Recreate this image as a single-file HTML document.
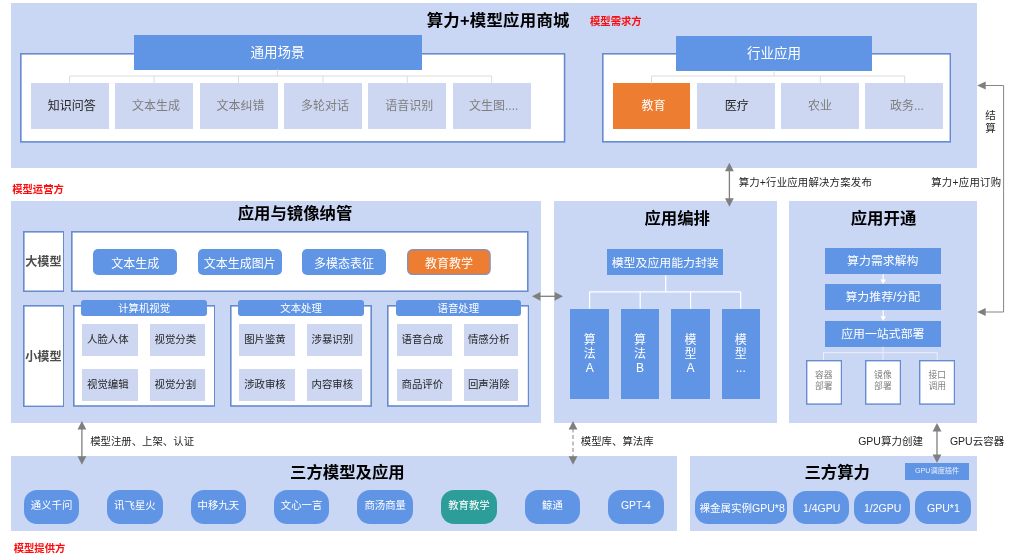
<!DOCTYPE html>
<html lang="zh-CN">
<head>
<meta charset="utf-8">
<title>算力+模型应用商城</title>
<style>
html,body{margin:0;padding:0;background:#fff;}
body{width:1017px;height:557px;position:relative;overflow:hidden;font-family:"Liberation Sans","Noto Sans CJK SC",sans-serif;}
#c{position:absolute;left:0;top:0;width:1017px;height:557px;overflow:hidden;will-change:transform;}
#c>div{position:absolute;}
#c>svg{position:absolute;}
.b{display:flex;align-items:center;justify-content:center;text-align:center;white-space:nowrap;line-height:1.2;}
.l{width:0;height:0;display:flex;align-items:center;justify-content:center;white-space:nowrap;line-height:1.2;}
.t{position:relative;display:block;}
</style>
</head>
<body>
<div id="c">
<div style="left:11px;top:3px;width:966.4px;height:165.4px;background:#cad7f4;"></div>
<div style="left:11px;top:201px;width:530.2px;height:222px;background:#cad7f4;"></div>
<div style="left:553.6px;top:201px;width:223.4px;height:222px;background:#cad7f4;"></div>
<div style="left:788.7px;top:201px;width:188.7px;height:222px;background:#cad7f4;"></div>
<div style="left:11px;top:456px;width:666px;height:75px;background:#cad7f4;"></div>
<div style="left:689.8px;top:456px;width:287.6px;height:75px;background:#cad7f4;"></div>
<div class="l" style="left:498.2px;top:21.1px;font-size:16.4px;color:#000;font-weight:bold;letter-spacing:0.25px;"><span class="t">算力+模型应用商城</span></div>
<div class="l" style="left:615.8px;top:21.9px;font-size:10.3px;color:#fb0d0d;font-weight:bold;"><span class="t">模型需求方</span></div>
<svg style="left:20.4px;top:52.9px;position:absolute" width="545.4" height="89.7" viewBox="0 0 545.4 89.7"><rect x="0.8" y="0.8" width="543.8" height="88.1" fill="#fff" stroke="#668bcf" stroke-width="1.6"/></svg>
<div class="b" style="left:133.5px;top:35px;width:288.1px;height:34.5px;background:#6095e6;font-size:13.5px;color:#fff;"><span class="t" style="left:0px;top:0.8px">通用场景</span></div>
<div class="b" style="left:30.7px;top:83px;width:78.0px;height:45.5px;background:#cdd7f1;font-size:12px;color:#262626;"><span class="t" style="left:2px;top:0.4px">知识问答</span></div>
<div class="b" style="left:115.1px;top:83px;width:78.0px;height:45.5px;background:#cdd7f1;font-size:12px;color:#7f7f7f;"><span class="t" style="left:2px;top:0.4px">文本生成</span></div>
<div class="b" style="left:199.5px;top:83px;width:78.0px;height:45.5px;background:#cdd7f1;font-size:12px;color:#7f7f7f;"><span class="t" style="left:2px;top:0.4px">文本纠错</span></div>
<div class="b" style="left:283.9px;top:83px;width:78.0px;height:45.5px;background:#cdd7f1;font-size:12px;color:#7f7f7f;"><span class="t" style="left:2px;top:0.4px">多轮对话</span></div>
<div class="b" style="left:368.3px;top:83px;width:78.0px;height:45.5px;background:#cdd7f1;font-size:12px;color:#7f7f7f;"><span class="t" style="left:2px;top:0.4px">语音识别</span></div>
<div class="b" style="left:452.7px;top:83px;width:78.0px;height:45.5px;background:#cdd7f1;font-size:12px;color:#7f7f7f;"><span class="t" style="left:2px;top:0.4px">文生图....</span></div>
<svg style="left:602px;top:53px;position:absolute" width="349.2" height="89.6" viewBox="0 0 349.2 89.6"><rect x="0.8" y="0.8" width="347.6" height="88.0" fill="#fff" stroke="#668bcf" stroke-width="1.6"/></svg>
<div class="b" style="left:676.2px;top:36px;width:195.6px;height:34.5px;background:#6095e6;font-size:13.5px;color:#fff;"><span class="t" style="left:0px;top:0.8px">行业应用</span></div>
<div class="b" style="left:612.5px;top:83px;width:77.8px;height:45.5px;background:#ed7d31;font-size:12px;color:#fff;"><span class="t" style="left:2px;top:0.4px">教育</span></div>
<div class="b" style="left:696.75px;top:83px;width:77.8px;height:45.5px;background:#cdd7f1;font-size:12px;color:#262626;"><span class="t" style="left:1.2px;top:0.4px">医疗</span></div>
<div class="b" style="left:781.0px;top:83px;width:77.8px;height:45.5px;background:#cdd7f1;font-size:12px;color:#7f7f7f;"><span class="t" style="left:0px;top:0.4px">农业</span></div>
<div class="b" style="left:865.25px;top:83px;width:77.8px;height:45.5px;background:#cdd7f1;font-size:12px;color:#7f7f7f;"><span class="t" style="left:2.8px;top:0.4px">政务...</span></div>
<div class="l" style="left:38px;top:189.7px;font-size:10.3px;color:#fb0d0d;font-weight:bold;"><span class="t">模型运营方</span></div>
<div class="l" style="left:39.5px;top:548.8px;font-size:10.3px;color:#fb0d0d;font-weight:bold;"><span class="t">模型提供方</span></div>
<div class="l" style="left:295px;top:214.3px;font-size:16.4px;color:#000;font-weight:bold;"><span class="t">应用与镜像纳管</span></div>
<svg style="left:22.6px;top:230.7px;position:absolute" width="41.6" height="61.1" viewBox="0 0 41.6 61.1"><rect x="0.8" y="0.8" width="40.0" height="59.5" fill="#fff" stroke="#668bcf" stroke-width="1.6"/></svg>
<div class="b" style="left:22.6px;top:230.7px;width:41.6px;height:61.1px;font-size:12.1px;color:#4d4d4d;font-weight:bold;"><span class="t" style="left:0px;top:1px">大模型</span></div>
<svg style="left:71.4px;top:230.7px;position:absolute" width="457.6" height="61.1" viewBox="0 0 457.6 61.1"><rect x="0.8" y="0.8" width="456.0" height="59.5" fill="#fff" stroke="#668bcf" stroke-width="1.6"/></svg>
<div class="b" style="left:93.2px;top:249.2px;width:84.1px;height:26.2px;background:#6095e6;font-size:12px;color:#fff;border-radius:5px;"><span class="t" style="left:0px;top:1.6px">文本生成</span></div>
<div class="b" style="left:197.7px;top:249.2px;width:84.3px;height:26.2px;background:#6095e6;font-size:12px;color:#fff;border-radius:5px;"><span class="t" style="left:0px;top:1.6px">文本生成图片</span></div>
<div class="b" style="left:302px;top:249.2px;width:84.2px;height:26.2px;background:#6095e6;font-size:12px;color:#fff;border-radius:5px;"><span class="t" style="left:0px;top:1.6px">多模态表征</span></div>
<svg style="left:407px;top:249.2px;position:absolute" width="83.8" height="26.2" viewBox="0 0 83.8 26.2"><rect x="0.7" y="0.7" width="82.4" height="24.8" rx="5" ry="5" fill="#ed7d31" stroke="#8a90b4" stroke-width="1.4"/></svg>
<div class="b" style="left:407px;top:249.2px;width:83.8px;height:26.2px;font-size:12px;color:#fff;"><span class="t" style="left:0px;top:1.6px">教育教学</span></div>
<svg style="left:22.6px;top:304.8px;position:absolute" width="41.6" height="102.2" viewBox="0 0 41.6 102.2"><rect x="0.8" y="0.8" width="40.0" height="100.6" fill="#fff" stroke="#668bcf" stroke-width="1.6"/></svg>
<div class="b" style="left:22.6px;top:304.8px;width:41.6px;height:102.2px;font-size:12.1px;color:#4d4d4d;font-weight:bold;"><span class="t" style="left:0px;top:1.6px">小模型</span></div>
<svg style="left:72.6px;top:305.2px;position:absolute" width="142.6" height="101.8" viewBox="0 0 142.6 101.8"><rect x="0.8" y="0.8" width="141.0" height="100.2" fill="#fff" stroke="#668bcf" stroke-width="1.6"/></svg>
<div class="b" style="left:81.4px;top:300.4px;width:125.6px;height:15.9px;background:#6095e6;font-size:10.4px;color:#fff;border-radius:3px;"><span class="t" style="left:0px;top:0.6px">计算机视觉</span></div>
<div class="b" style="left:82.1px;top:323.8px;width:55.9px;height:32.6px;background:#cdd7f1;font-size:10.4px;color:#262626;"><span class="t" style="left:-2.2px;top:0.5px">人脸人体</span></div>
<div class="b" style="left:149.6px;top:323.8px;width:55.9px;height:32.6px;background:#cdd7f1;font-size:10.4px;color:#262626;"><span class="t" style="left:-2.2px;top:0.5px">视觉分类</span></div>
<div class="b" style="left:82.1px;top:369px;width:55.9px;height:32px;background:#cdd7f1;font-size:10.4px;color:#262626;"><span class="t" style="left:-2.2px;top:0.5px">视觉编辑</span></div>
<div class="b" style="left:149.6px;top:369px;width:55.9px;height:32px;background:#cdd7f1;font-size:10.4px;color:#262626;"><span class="t" style="left:-2.2px;top:0.5px">视觉分割</span></div>
<svg style="left:230px;top:305.2px;position:absolute" width="142" height="101.8" viewBox="0 0 142 101.8"><rect x="0.8" y="0.8" width="140.4" height="100.2" fill="#fff" stroke="#668bcf" stroke-width="1.6"/></svg>
<div class="b" style="left:238px;top:300.4px;width:126.2px;height:15.9px;background:#6095e6;font-size:10.4px;color:#fff;border-radius:3px;"><span class="t" style="left:0px;top:0.6px">文本处理</span></div>
<div class="b" style="left:239.3px;top:323.8px;width:55.7px;height:32.6px;background:#cdd7f1;font-size:10.4px;color:#262626;"><span class="t" style="left:-2.2px;top:0.5px">图片鉴黄</span></div>
<div class="b" style="left:306.6px;top:323.8px;width:55.9px;height:32.6px;background:#cdd7f1;font-size:10.4px;color:#262626;"><span class="t" style="left:-2.2px;top:0.5px">涉暴识别</span></div>
<div class="b" style="left:239.3px;top:369px;width:55.7px;height:32px;background:#cdd7f1;font-size:10.4px;color:#262626;"><span class="t" style="left:-2.2px;top:0.5px">涉政审核</span></div>
<div class="b" style="left:306.6px;top:369px;width:55.9px;height:32px;background:#cdd7f1;font-size:10.4px;color:#262626;"><span class="t" style="left:-2.2px;top:0.5px">内容审核</span></div>
<svg style="left:386.6px;top:305.2px;position:absolute" width="142.4" height="101.8" viewBox="0 0 142.4 101.8"><rect x="0.8" y="0.8" width="140.8" height="100.2" fill="#fff" stroke="#668bcf" stroke-width="1.6"/></svg>
<div class="b" style="left:395.8px;top:300.4px;width:125.0px;height:15.9px;background:#6095e6;font-size:10.4px;color:#fff;border-radius:3px;"><span class="t" style="left:0px;top:0.6px">语音处理</span></div>
<div class="b" style="left:396.6px;top:323.8px;width:55.9px;height:32.6px;background:#cdd7f1;font-size:10.4px;color:#262626;"><span class="t" style="left:-2.2px;top:0.5px">语音合成</span></div>
<div class="b" style="left:463.6px;top:323.8px;width:54.7px;height:32.6px;background:#cdd7f1;font-size:10.4px;color:#262626;"><span class="t" style="left:-2.2px;top:0.5px">情感分析</span></div>
<div class="b" style="left:396.6px;top:369px;width:55.9px;height:32px;background:#cdd7f1;font-size:10.4px;color:#262626;"><span class="t" style="left:-2.2px;top:0.5px">商品评价</span></div>
<div class="b" style="left:463.6px;top:369px;width:54.7px;height:32px;background:#cdd7f1;font-size:10.4px;color:#262626;"><span class="t" style="left:-2.2px;top:0.5px">回声消除</span></div>
<div class="l" style="left:677.2px;top:218.4px;font-size:16.4px;color:#000;font-weight:bold;"><span class="t">应用编排</span></div>
<div class="b" style="left:607.2px;top:248.5px;width:116.1px;height:26.7px;background:#6095e6;font-size:11.9px;color:#fff;"><span class="t" style="left:0px;top:0.8px">模型及应用能力封装</span></div>
<div class="b" style="left:570.4px;top:308.7px;width:38.6px;height:90.0px;background:#6095e6;font-size:12px;color:#fff;line-height:14px;white-space:normal;"><span class="t" style="left:0px;top:0.3px">算<br>法<br>A</span></div>
<div class="b" style="left:620.8px;top:308.7px;width:38.6px;height:90.0px;background:#6095e6;font-size:12px;color:#fff;line-height:14px;white-space:normal;"><span class="t" style="left:0px;top:0.3px">算<br>法<br>B</span></div>
<div class="b" style="left:671.2px;top:308.7px;width:38.6px;height:90.0px;background:#6095e6;font-size:12px;color:#fff;line-height:14px;white-space:normal;"><span class="t" style="left:0px;top:0.3px">模<br>型<br>A</span></div>
<div class="b" style="left:721.6px;top:308.7px;width:38.4px;height:90.0px;background:#6095e6;font-size:12px;color:#fff;line-height:14px;white-space:normal;"><span class="t" style="left:0px;top:0.3px">模<br>型<br>...</span></div>
<div class="l" style="left:883.5px;top:218.4px;font-size:16.4px;color:#000;font-weight:bold;"><span class="t">应用开通</span></div>
<div class="b" style="left:825px;top:247.7px;width:115.6px;height:26.5px;background:#6095e6;font-size:11.9px;color:#fff;"><span class="t" style="left:0px;top:0.4px">算力需求解构</span></div>
<div class="b" style="left:825px;top:284px;width:115.6px;height:26.2px;background:#6095e6;font-size:11.9px;color:#fff;"><span class="t" style="left:0px;top:0.4px">算力推荐/分配</span></div>
<div class="b" style="left:825px;top:320.8px;width:115.6px;height:25.9px;background:#6095e6;font-size:11.9px;color:#fff;"><span class="t" style="left:0px;top:0.4px">应用一站式部署</span></div>
<svg style="left:805.6px;top:360px;position:absolute" width="36.2" height="44.8" viewBox="0 0 36.2 44.8"><rect x="0.7" y="0.7" width="34.8" height="43.4" fill="#fff" stroke="#668bcf" stroke-width="1.4"/></svg>
<div class="b" style="left:805.6px;top:360px;width:36.2px;height:44.8px;font-size:8.8px;color:#7f7f7f;line-height:11.3px;white-space:normal;"><span class="t" style="left:0px;top:-1.5px">容器<br>部署</span></div>
<svg style="left:864.8px;top:360px;position:absolute" width="36.2" height="44.8" viewBox="0 0 36.2 44.8"><rect x="0.7" y="0.7" width="34.8" height="43.4" fill="#fff" stroke="#668bcf" stroke-width="1.4"/></svg>
<div class="b" style="left:864.8px;top:360px;width:36.2px;height:44.8px;font-size:8.8px;color:#7f7f7f;line-height:11.3px;white-space:normal;"><span class="t" style="left:0px;top:-1.5px">镜像<br>部署</span></div>
<svg style="left:919.2px;top:360px;position:absolute" width="36.2" height="44.8" viewBox="0 0 36.2 44.8"><rect x="0.7" y="0.7" width="34.8" height="43.4" fill="#fff" stroke="#668bcf" stroke-width="1.4"/></svg>
<div class="b" style="left:919.2px;top:360px;width:36.2px;height:44.8px;font-size:8.8px;color:#7f7f7f;line-height:11.3px;white-space:normal;"><span class="t" style="left:0px;top:-1.5px">接口<br>调用</span></div>
<div class="l" style="left:347.4px;top:472.7px;font-size:16.4px;color:#000;font-weight:bold;"><span class="t">三方模型及应用</span></div>
<div class="l" style="left:837.2px;top:472.7px;font-size:16.4px;color:#000;font-weight:bold;"><span class="t">三方算力</span></div>
<div class="b" style="left:23.7px;top:490.4px;width:55.8px;height:33.3px;background:#6095e6;font-size:10.4px;color:#fff;border-radius:13px;"><span class="t" style="left:0px;top:-0.5px">通义千问</span></div>
<div class="b" style="left:107.0px;top:490.4px;width:55.8px;height:33.3px;background:#6095e6;font-size:10.4px;color:#fff;border-radius:13px;"><span class="t" style="left:0px;top:-0.5px">讯飞星火</span></div>
<div class="b" style="left:190.5px;top:490.4px;width:55.8px;height:33.3px;background:#6095e6;font-size:10.4px;color:#fff;border-radius:13px;"><span class="t" style="left:0px;top:-0.5px">中移九天</span></div>
<div class="b" style="left:273.7px;top:490.4px;width:55.8px;height:33.3px;background:#6095e6;font-size:10.4px;color:#fff;border-radius:13px;"><span class="t" style="left:0px;top:-0.5px">文心一言</span></div>
<div class="b" style="left:357.3px;top:490.4px;width:55.8px;height:33.3px;background:#6095e6;font-size:10.4px;color:#fff;border-radius:13px;"><span class="t" style="left:0px;top:-0.5px">商汤商量</span></div>
<div class="b" style="left:441.1px;top:490.4px;width:55.8px;height:33.3px;background:#2d9d9a;font-size:10.4px;color:#fff;border-radius:13px;"><span class="t" style="left:0px;top:-0.5px">教育教学</span></div>
<div class="b" style="left:524.6px;top:490.4px;width:55.8px;height:33.3px;background:#6095e6;font-size:10.4px;color:#fff;border-radius:13px;"><span class="t" style="left:0px;top:-0.5px">鲸通</span></div>
<div class="b" style="left:608.0px;top:490.4px;width:55.8px;height:33.3px;background:#6095e6;font-size:10.4px;color:#fff;border-radius:13px;"><span class="t" style="left:0px;top:-0.5px">GPT-4</span></div>
<div class="b" style="left:695.4px;top:491.3px;width:92.0px;height:32.7px;background:#6095e6;font-size:10.5px;color:#fff;border-radius:13px;"><span class="t" style="left:0.8px;top:0.3px">裸金属实例GPU*8</span></div>
<div class="b" style="left:793px;top:491.3px;width:55.7px;height:32.7px;background:#6095e6;font-size:10.5px;color:#fff;border-radius:13px;"><span class="t" style="left:0.8px;top:0.3px">1/4GPU</span></div>
<div class="b" style="left:854px;top:491.3px;width:55.6px;height:32.7px;background:#6095e6;font-size:10.5px;color:#fff;border-radius:13px;"><span class="t" style="left:0.8px;top:0.3px">1/2GPU</span></div>
<div class="b" style="left:914.7px;top:491.3px;width:55.9px;height:32.7px;background:#6095e6;font-size:10.5px;color:#fff;border-radius:13px;"><span class="t" style="left:0.8px;top:0.3px">GPU*1</span></div>
<div class="b" style="left:905.3px;top:463px;width:63.5px;height:17.4px;background:#6095e6;font-size:7.2px;color:rgba(255,255,255,0.85);"><span class="t">GPU调度插件</span></div>
<div class="l" style="left:805.3px;top:183.6px;font-size:10.4px;color:#262626;font-weight:normal;letter-spacing:0.2px;"><span class="t">算力+行业应用解决方案发布</span></div>
<div class="l" style="left:966.3px;top:183.6px;font-size:10.4px;color:#262626;font-weight:normal;letter-spacing:0.25px;"><span class="t">算力+应用订购</span></div>
<div class="l" style="left:142.1px;top:442.7px;font-size:10.4px;color:#262626;font-weight:normal;"><span class="t">模型注册、上架、认证</span></div>
<div class="l" style="left:617.2px;top:442.7px;font-size:10.4px;color:#262626;font-weight:normal;"><span class="t">模型库、算法库</span></div>
<div class="l" style="left:890.5px;top:441px;font-size:10.5px;color:#262626;font-weight:normal;"><span class="t">GPU算力创建</span></div>
<div class="l" style="left:977px;top:441px;font-size:10.5px;color:#262626;font-weight:normal;"><span class="t">GPU云容器</span></div>
<div class="l" style="left:990.5px;top:115.1px;font-size:10.5px;color:#262626;font-weight:normal;"><span class="t">结</span></div>
<div class="l" style="left:990.5px;top:128.2px;font-size:10.5px;color:#262626;font-weight:normal;"><span class="t">算</span></div>
<svg style="left:0;top:0" width="1017" height="557" viewBox="0 0 1017 557">
<line x1="729.4" y1="170.20000000000002" x2="729.4" y2="199.29999999999998" stroke="#7f7f7f" stroke-width="1.3"/>
<polygon points="729.4,162.8 725.0,171.20000000000002 733.8,171.20000000000002" fill="#7f7f7f"/>
<polygon points="729.4,206.7 725.0,198.29999999999998 733.8,198.29999999999998" fill="#7f7f7f"/>
<line x1="81.9" y1="428.4" x2="81.9" y2="457.3" stroke="#7f7f7f" stroke-width="1.3"/>
<polygon points="81.9,421 77.5,429.4 86.30000000000001,429.4" fill="#7f7f7f"/>
<polygon points="81.9,464.7 77.5,456.3 86.30000000000001,456.3" fill="#7f7f7f"/>
<line x1="573" y1="428.4" x2="573" y2="457.3" stroke="#a0a0a0" stroke-width="1.3" stroke-dasharray="4 2.5"/>
<polygon points="573,421 568.6,429.4 577.4,429.4" fill="#7f7f7f"/>
<polygon points="573,464.7 568.6,456.3 577.4,456.3" fill="#7f7f7f"/>
<line x1="937" y1="430.4" x2="937" y2="455.6" stroke="#7f7f7f" stroke-width="1.3"/>
<polygon points="937,423 932.6,431.4 941.4,431.4" fill="#7f7f7f"/>
<polygon points="937,463 932.6,454.6 941.4,454.6" fill="#7f7f7f"/>
<line x1="539.4" y1="296.3" x2="555.6" y2="296.3" stroke="#7f7f7f" stroke-width="1.3"/>
<polygon points="532,296.3 540.4,291.90000000000003 540.4,300.7" fill="#7f7f7f"/>
<polygon points="563,296.3 554.6,291.90000000000003 554.6,300.7" fill="#7f7f7f"/>
<polyline points="985,85.5 1003.6,85.5 1003.6,312 985,312" fill="none" stroke="#858585" stroke-width="1"/>
<polygon points="977.2,85.5 985.7,81.4 985.7,89.6" fill="#7f7f7f"/>
<polygon points="977.2,312 985.7,307.9 985.7,316.1" fill="#7f7f7f"/>
<path d="M277.4,69.5 V76 M69.7,76 H491.7 M69.7,76 V83.5 M154.10000000000002,76 V83.5 M238.5,76 V83.5 M322.90000000000003,76 V83.5 M407.3,76 V83.5 M491.7,76 V83.5" fill="none" stroke="#dcdcdc" stroke-width="1"/>
<path d="M774,70.5 V76 M651.5,76 H904.7 M651.5,76 V83.5 M735.9,76 V83.5 M820.3,76 V83.5 M904.7,76 V83.5" fill="none" stroke="#dcdcdc" stroke-width="1"/>
<path d="M665.7,275.2 V291.8 M589.6,291.8 H740.7 M589.6,291.8 V308.7 M640.2,291.8 V308.7 M690.6,291.8 V308.7 M740.7,291.8 V308.7" fill="none" stroke="#fff" stroke-width="1.2"/>
<path d="M883,346.7 V352.6 M823.5,352.6 H937.3 M823.5,352.6 V360 M883,352.6 V360 M937.3,352.6 V360" fill="none" stroke="#e8eefb" stroke-width="1"/>
<line x1="883.2" y1="274.2" x2="883.2" y2="281" stroke="#fff" stroke-width="1.2"/>
<polygon points="883.2,284 880.4,279.5 886,279.5" fill="#fff"/>
<line x1="883.2" y1="310.2" x2="883.2" y2="317.8" stroke="#fff" stroke-width="1.2"/>
<polygon points="883.2,320.8 880.4,316.3 886,316.3" fill="#fff"/>
</svg>
</div>
</body>
</html>
